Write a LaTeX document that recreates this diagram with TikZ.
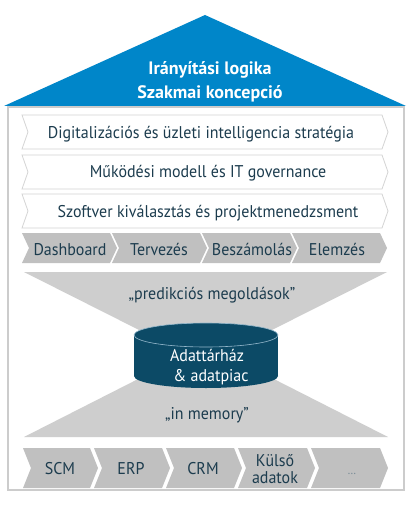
\documentclass[tikz,border=0pt]{standalone}
\usepackage{fontspec}
\setmainfont{PT Sans}[FakeStretch=0.94]
\newfontfamily\rooffont{PT Sans}
\definecolor{roofblue}{RGB}{0,134,201}
\definecolor{framegray}{RGB}{204,204,204}
\definecolor{rowborder}{RGB}{212,212,212}
\definecolor{chevgray}{RGB}{192,192,192}
\definecolor{funnelgray}{RGB}{206,206,206}
\definecolor{cylblue}{RGB}{12,74,102}
\definecolor{cylline}{RGB}{150,185,205}
\definecolor{txtdark}{RGB}{28,60,78}
\newcommand\mychev[6]{% x0, tip, ytop, ybot, depth, style
  \path[#6] (#1,#3) -- ({#2-#5},#3) -- (#2,{(#3+#4)/2}) -- ({#2-#5},#4) -- (#1,#4) -- ({#1+#5},{(#3+#4)/2}) -- cycle;}
\begin{document}
\begin{tikzpicture}[x=1pt,y=-1pt,
  txt/.style={text=txtdark, font=\fontsize{17}{20}\selectfont, inner sep=0pt, anchor=base},
  rooftxt/.style={text=white, font=\rooffont\fontsize{18}{20}\selectfont\bfseries, inner sep=0pt, anchor=base},
  cyltxt/.style={text=white, font=\fontsize{17}{20}\selectfont, inner sep=0pt, anchor=base},
  whiterow/.style={draw=rowborder, fill=white, line width=0.8pt},
  grayseg/.style={fill=chevgray}]
\useasboundingbox (0,0) rectangle (411,521);
\fill[white] (0,0) rectangle (411,521);
% frame
\draw[framegray, line width=1.2pt] (8,107) rectangle (404,490);
% roof
\fill[roofblue] (4,106) -- (205,15) -- (406,106) -- cycle;
\node[rooftxt] (roof1) at (210,75) {Irányítási logika};
\node[rooftxt] (roof2) at (210,99) {Szakmai koncepció};
% white rows
\mychev{22}{388}{115}{149}{6}{whiterow}
\mychev{22}{388}{155}{189}{6}{whiterow}
\mychev{22}{388}{194}{228}{6}{whiterow}
\node[txt] (row1) at (201,139) {Digitalizációs és üzleti intelligencia stratégia};
\node[txt] (row2) at (208,178) {Működési modell és IT governance};
\node[txt] (row3) at (208,217) {Szoftver kiválasztás és projektmenedzsment};
% gray process row
\mychev{22}{117}{233}{263}{7}{grayseg}
\mychev{112}{207}{233}{263}{7}{grayseg}
\mychev{202}{297}{233}{263}{7}{grayseg}
\mychev{292}{387}{233}{263}{7}{grayseg}
\node[txt] (dash) at (70,255) {Dashboard};
\node[txt] (terv) at (159,255) {Tervezés};
\node[txt] (besz) at (252,255) {Beszámolás};
\node[txt] (elem) at (337,255) {Elemzés};
% funnel
\fill[funnelgray] (24,272) -- (387,272) -- (260,336) -- (151,336) -- cycle;
\fill[funnelgray] (24,437) -- (388,437) -- (264,374) -- (148,374) -- cycle;
\node[txt] (pred) at (212,299) {„predikciós megoldások”};
\node[txt] (mem) at (207,419) {„in memory”};
% cylinder
\fill[cylblue] (134,335) rectangle (278,376);
\fill[cylblue] (206,376) ellipse[x radius=72, y radius=12];
\draw[cylline, fill=cylblue, line width=0.6pt] (206,335) ellipse[x radius=72, y radius=12];
\node[cyltxt] (cyl1) at (207,361) {Adattárház};
\node[cyltxt] (cyl2) at (211,381) {\& adatpiac};
% source row
\mychev{23}{98}{448}{488}{8}{grayseg}
\mychev{94}{170}{448}{488}{8}{grayseg}
\mychev{166}{242}{448}{488}{8}{grayseg}
\mychev{238}{315}{448}{488}{8}{grayseg}
\mychev{311}{388}{448}{488}{8}{grayseg}
\node[txt] (scm) at (60,474) {SCM};
\node[txt] (erp) at (131,474) {ERP};
\node[txt] (crm) at (203,474) {CRM};
\node[txt] (kul1) at (275,466) {Külső};
\node[txt] (kul2) at (275,483) {adatok};
\node[txt, text=txtdark!60, font=\fontsize{12}{14}\selectfont] (etc) at (352,474) {…};
\end{tikzpicture}
\end{document}
